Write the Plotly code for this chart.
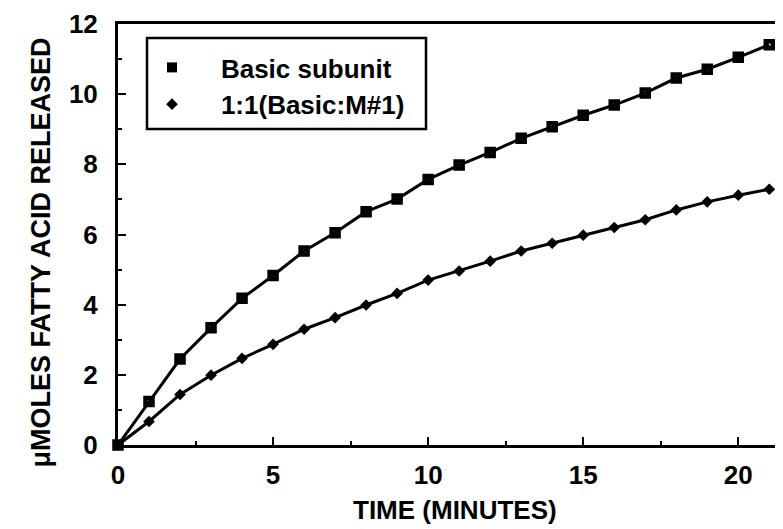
import plotly.graph_objects as go

time_min = [0, 1, 2, 3, 4, 5, 6, 7, 8, 9, 10, 11, 12, 13, 14, 15, 16, 17, 18, 19, 20, 21]
basic_subunit = [0, 1.24, 2.45, 3.34, 4.18, 4.83, 5.53, 6.05, 6.65, 7.01, 7.57, 7.98, 8.34,
                 8.74, 9.07, 9.40, 9.69, 10.03, 10.46, 10.71, 11.05, 11.41]
basic_m1 = [0, 0.67, 1.44, 1.99, 2.47, 2.87, 3.30, 3.63, 3.99, 4.32, 4.70, 4.96, 5.24,
            5.53, 5.75, 5.98, 6.20, 6.42, 6.70, 6.93, 7.12, 7.29]
series_names = ["Basic subunit", "1:1(Basic:M#1)"]
x_ticks = [0, 5, 10, 15, 20]
y_ticks = [0, 2, 4, 6, 8, 10, 12]

FONT = "Liberation Sans, Arial, sans-serif"
W, H = 783, 529
ML, MR, MT, MB = 110, 0, 16, 92
PW, PH = W - ML - MR, H - MT - MB


def px_x(p):
    return (p - ML) / PW


def px_y(p):
    return (H - MB - p) / PH


fig = go.Figure()

fig.add_trace(go.Scatter(x=time_min, y=basic_subunit, mode="lines+markers",
                         line=dict(color="black", width=3),
                         marker=dict(symbol="square-open", size=7, color="black",
                                     line=dict(color="black", width=4.5)),
                         showlegend=False, cliponaxis=False))
fig.add_trace(go.Scatter(x=time_min, y=basic_m1, mode="lines+markers",
                         line=dict(color="black", width=3),
                         marker=dict(symbol="diamond", size=9, color="black"),
                         showlegend=False, cliponaxis=False))
# legend-only entries (marker only, as in the original key)
NB = "\u00a0" * 4
fig.add_trace(go.Scatter(x=[None], y=[None], mode="markers", name=NB + series_names[0],
                         marker=dict(symbol="square", size=10, color="black")))
fig.add_trace(go.Scatter(x=[None], y=[None], mode="markers", name=NB + series_names[1],
                         marker=dict(symbol="diamond", size=9, color="black")))

fig.update_layout(
    width=W, height=H,
    margin=dict(l=ML, r=MR, t=MT, b=MB),
    paper_bgcolor="white", plot_bgcolor="white",
    font=dict(family=FONT, size=26, color="black", weight="bold"),
    legend=dict(x=px_x(144), y=px_y(36), xanchor="left", yanchor="top",
                borderwidth=0, bgcolor="rgba(0,0,0,0)",
                font=dict(size=26, family=FONT, weight="bold"),
                itemwidth=30),
    xaxis=dict(range=[0, 21.7], tickvals=x_ticks, ticks="inside", ticklen=8, tickwidth=2,
               tickcolor="black", showline=True, linecolor="black", linewidth=3,
               mirror=True, showgrid=False, zeroline=False, ticklabelstandoff=5,
               minor=dict(dtick=2.5, tick0=0, ticks="inside", ticklen=4, tickwidth=2,
                          tickcolor="black", showgrid=False)),
    yaxis=dict(range=[0, 12], tickvals=y_ticks, ticks="inside", ticklen=8, tickwidth=2,
               tickcolor="black", showline=True, linecolor="black", linewidth=3,
               showgrid=False, zeroline=False, ticklabelstandoff=12,
               minor=dict(dtick=1, tick0=0, ticks="inside", ticklen=4, tickwidth=2,
                          tickcolor="black", showgrid=False)),
    shapes=[
        dict(type="rect", xref="paper", yref="paper",
             x0=px_x(139), x1=px_x(418), y0=px_y(121), y1=px_y(30),
             line=dict(color="black", width=2.5), fillcolor="rgba(0,0,0,0)", layer="above"),
    ],
    annotations=[
        dict(text="TIME (MINUTES)", xref="paper", yref="paper", x=px_x(447),
             y=px_y(502), xanchor="center", yanchor="middle", showarrow=False,
             font=dict(size=26, family=FONT, weight="bold")),
        dict(text="\u03bcMOLES FATTY ACID RELEASED", xref="paper", yref="paper",
             x=px_x(33), y=px_y(244.5), xanchor="center", yanchor="middle",
             textangle=-90, showarrow=False,
             font=dict(size=27, family=FONT, weight="bold")),
    ],
)

fig.write_html("out.html")
